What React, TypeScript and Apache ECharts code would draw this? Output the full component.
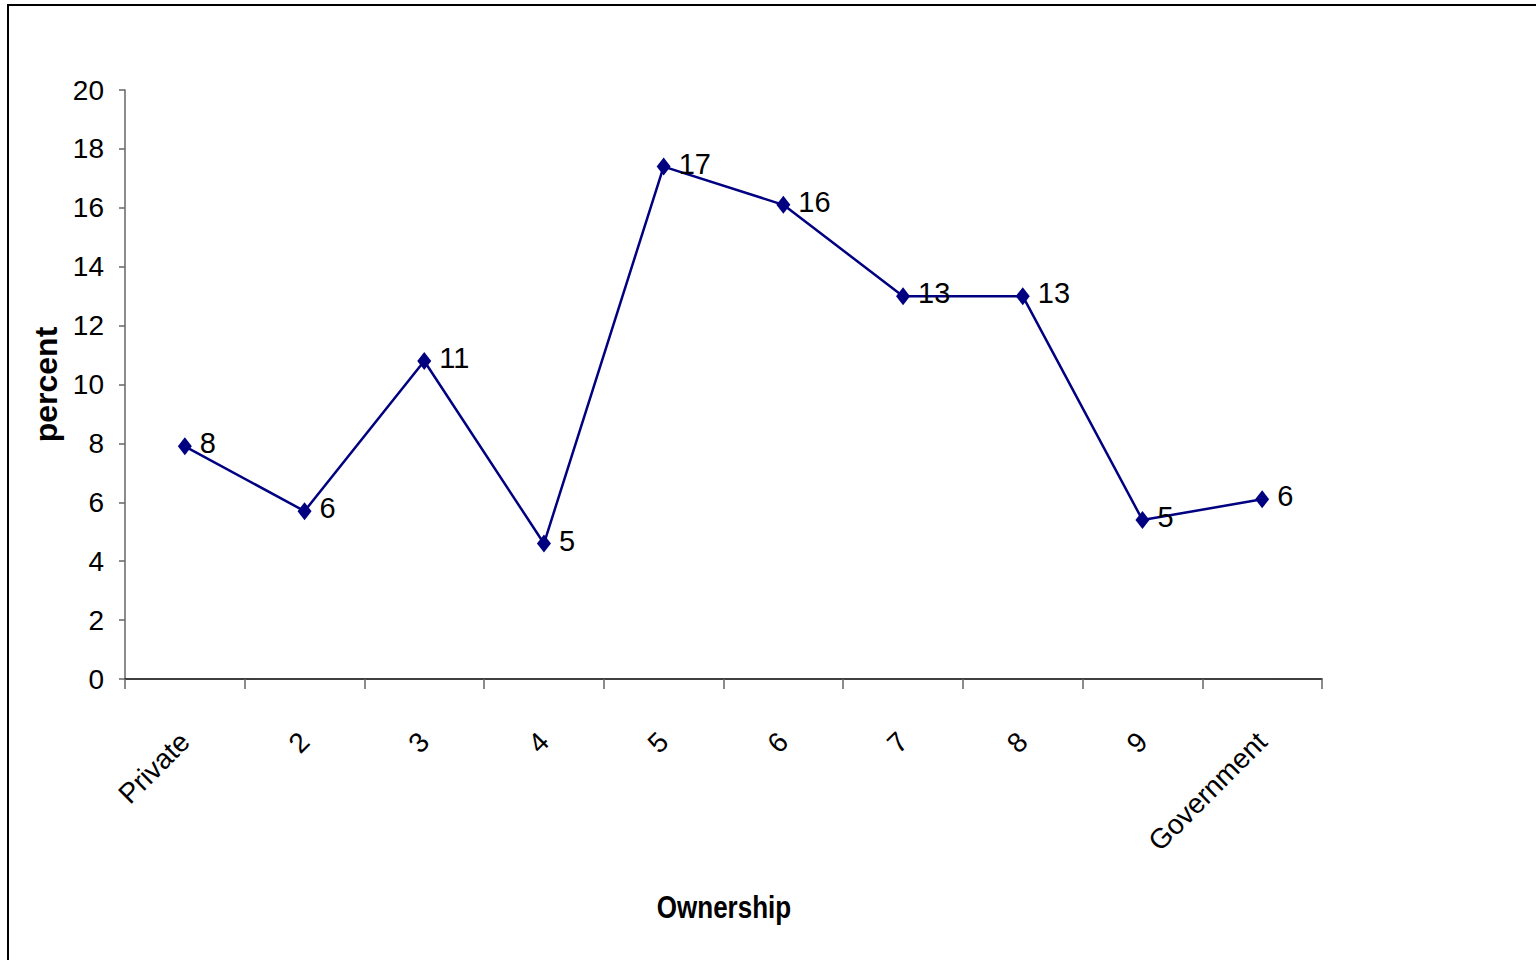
import React, { useEffect, useRef } from "react";
import * as echarts from "echarts";

const categories = ["Private", "2", "3", "4", "5", "6", "7", "8", "9", "Government"];
const percentValues = [7.9, 5.7, 10.8, 4.6, 17.4, 16.1, 13.0, 13.0, 5.4, 6.1];
const yTicks = { min: 0, max: 20, interval: 2 };
const xAxisTitle = "Ownership";
const yAxisTitle = "percent";

const FONT = "'Liberation Sans', Arial, sans-serif";

export default function App() {
  const ref = useRef<HTMLDivElement>(null);
  useEffect(() => {
    if (!ref.current) return;
    const chart = echarts.init(ref.current, null, { renderer: "svg" });
    chart.setOption({
      animation: false,
      backgroundColor: "#ffffff",
      graphic: [
        {
          type: "rect",
          shape: { x: 8, y: 5, width: 1540, height: 970 },
          style: { fill: "none", stroke: "#000000", lineWidth: 2 },
          silent: true,
        },
        {
          type: "text",
          x: 724,
          y: 907,
          scaleX: 0.84,
          style: {
            text: xAxisTitle,
            fontFamily: FONT,
            fontWeight: "bold",
            fontSize: 31,
            fill: "#000",
            align: "center",
            verticalAlign: "middle",
          },
          silent: true,
        },
      ],
      grid: { left: 125, right: 214, top: 90, bottom: 281, containLabel: false },
      xAxis: {
        type: "category",
        data: categories,
        boundaryGap: true,
        axisLine: { show: true, lineStyle: { color: "#000", width: 1.5 } },
        axisTick: { show: true, alignWithLabel: false, length: 10, lineStyle: { color: "#666", width: 1.5 } },
        axisLabel: {
          rotate: 45,
          margin: 58,
          interval: 0,
          fontFamily: FONT,
          fontSize: 28,
          color: "#000",
        },
        splitLine: { show: false },
      },
      yAxis: {
        type: "value",
        min: yTicks.min,
        max: yTicks.max,
        interval: yTicks.interval,
        name: yAxisTitle,
        nameLocation: "middle",
        nameGap: 48,
        nameRotate: 90,
        nameTextStyle: { fontFamily: FONT, fontWeight: "bold", fontSize: 32, color: "#000" },
        axisLine: { show: true, lineStyle: { color: "#666", width: 1.5 } },
        axisTick: { show: true, inside: false, length: 6, lineStyle: { color: "#666", width: 1.5 } },
        axisLabel: { margin: 21, fontFamily: FONT, fontSize: 28, color: "#000" },
        splitLine: { show: false },
      },
      series: [
        {
          type: "line",
          data: percentValues,
          symbol: "diamond",
          symbolSize: [14, 18],
          lineStyle: { color: "#000080", width: 2.5 },
          itemStyle: { color: "#000080" },
          label: {
            show: true,
            position: "right",
            distance: 8,
            offset: [0, -3],
            fontFamily: FONT,
            fontSize: 29,
            color: "#000",
            formatter: (p: any) => String(Math.round(p.value)),
          },
        },
      ],
    });
    return () => chart.dispose();
  }, []);
  return (
    <div
      ref={ref}
      style={{ position: "absolute", left: 0, top: 0, width: 1536, height: 960 }}
    />
  );
}
